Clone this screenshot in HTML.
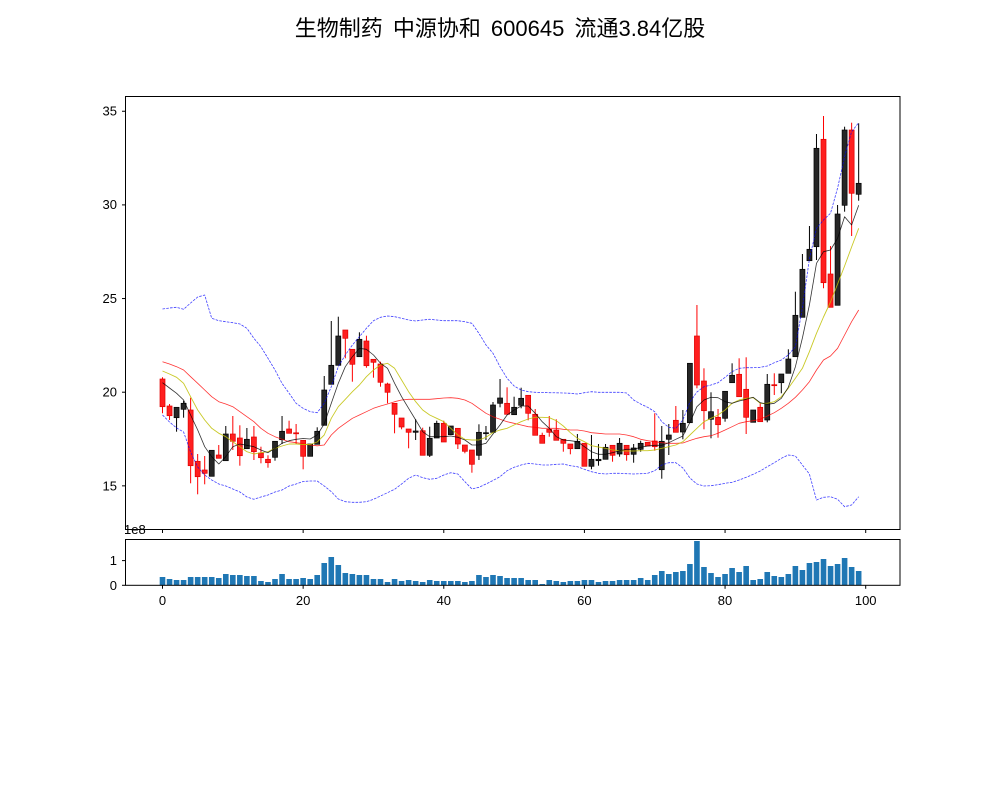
<!DOCTYPE html>
<html><head><meta charset="utf-8"><style>
html,body{margin:0;padding:0;background:#fff;}
svg{display:block;}
text{font-family:"Liberation Sans","Noto Sans CJK SC",sans-serif;fill:#000;}
</style></head><body>
<svg id="s" width="1000" height="800" viewBox="0 0 1000 800" xmlns="http://www.w3.org/2000/svg">
<rect x="0" y="0" width="1000" height="800" fill="#fff"/>
<text x="500" y="36" font-size="22" text-anchor="middle" word-spacing="4" style="font-family:'Liberation Sans','Noto Sans CJK SC',sans-serif">生物制药 中源协和 600645 流通3.84亿股</text>
<g id="main"></g>
<g id="vol"></g>
<text x="124" y="534" font-size="13">1e8</text>
<rect x="125.5" y="96.5" width="774.5" height="433" fill="none" stroke="#000" stroke-width="1"/>
<rect x="125.5" y="539.5" width="774.5" height="45.8" fill="none" stroke="#000" stroke-width="1"/>
<g id="ticks" stroke="#000" stroke-width="1"></g>
<g font-size="13" text-anchor="end">
<text x="117" y="115.6">35</text>
<text x="117" y="209.2">30</text>
<text x="117" y="302.9">25</text>
<text x="117" y="396.6">20</text>
<text x="117" y="490.3">15</text>
<text x="117" y="565">1</text>
<text x="117" y="589.8">0</text>
</g>
<g font-size="13" text-anchor="middle">
<text x="162.5" y="605">0</text>
<text x="303.1" y="605">20</text>
<text x="443.8" y="605">40</text>
<text x="584.4" y="605">60</text>
<text x="725" y="605">80</text>
<text x="865.7" y="605">100</text>
</g>
</svg>
<script>
(function(){
var NS="http://www.w3.org/2000/svg";
function X(i){return 162.5+7.032*i;}
function el(p,tag,attrs){var e=document.createElementNS(NS,tag);for(var k in attrs)e.setAttribute(k,attrs[k]);p.appendChild(e);return e;}
var C=[
"r",379,406.7,377.3,413.3,"r",406,415.7,404,420,"k",407.3,417.7,407,431.7,"k",403.3,409.3,400.7,417.7,"r",410,465.7,397.7,483.3,
"r",461.3,476.7,454,494.3,"r",470,473.3,456,484.3,"k",450.3,476.3,450.3,476.3,"r",455,458.3,445,458.3,"k",434,460.7,426,460.7,
"r",434,441.3,416,450,"r",438,455.7,425.3,465.7,"k",439.3,448.7,428,448.7,"r",437,451.7,426,460,"r",453,457.7,446.7,463.3,
"r",459.3,462.7,455.3,467.7,"k",441.3,457.3,441.3,460.7,"k",431.3,439.7,416,444,"r",429,433.3,420.7,433.3,"r",432.8,433.8,424,444,
"r",440.3,456.3,440.3,469.3,"k",444,456.3,444,456.3,"k",431.3,444.3,427.3,444.3,"k",390,425.3,376,425.3,"k",365.3,384.3,321,384.3,
"k",336,365.3,316.7,365.3,"r",330,338.3,330,358.3,"r",349.3,364.3,349.3,381.7,"k",339.3,356.7,332.3,356.7,"r",341,365.7,335.7,367.7,
"r",359.3,362.3,359.3,377.7,"r",364,382.3,361.7,386.7,"r",384,392.3,382.7,403.3,"r",403.3,414.3,403.3,433.3,"r",418,427,418,429.3,
"r",429,432.3,429,448.3,"k",431,432.3,419.3,440,"r",430.7,455.3,427.7,455.3,"k",438.3,455.3,426.7,457,"k",423.3,438,420.7,438,
"r",423.3,442,420.7,442,"k",426,434.7,426,434.7,"r",428.3,444,428.3,449,"r",445,451.3,445,453.3,"r",450,464.3,450,472.7,
"k",432.3,455.3,424.3,460,"k",432.7,433.7,426,440,"k",405,432.3,402,432.3,"k",398,403.3,379,407.3,"r",403.3,414.3,387.3,414.3,
"k",407.3,414.7,396.7,414.7,"k",398.3,405.3,387.7,408.3,"r",395.3,413.3,395.3,420.3,"r",414.3,435.3,409,435.3,"r",435.3,443.3,432.7,443.3,
"r",429.3,432.3,416,436.7,"r",430,440.3,419.3,440.3,"r",439.3,443.3,439.3,451.7,"r",444,448.7,444,454.3,"k",441.3,448.7,434,448.7,
"r",443.3,466.3,443.3,466.3,"k",459.3,466.3,435,469.3,"k",459.3,460.7,444,465.7,"k",447.3,459.3,444,459.3,"r",445.3,455.3,445.3,461.7,
"k",443.3,454,438,456.7,"r",445.3,454.7,445.3,460.7,"k",448,454.3,444,462.7,"k",443.3,449.3,440.7,451.7,"r",442.3,446,442.3,446,
"r",441,446.7,413.3,450.7,"k",441.3,469.7,426,478.7,"k",435,439.3,424,455,"r",420.3,432.3,406,432.3,"k",423.3,432,410,439.3,
"k",363.3,422.7,363.3,422.7,"r",336,385,305,388.3,"r",381,410.7,368.3,429.3,"k",411.7,419.3,392.3,438.3,"r",417.3,424.7,409,437.7,
"k",391.3,418.3,391.3,421.7,"k",375.3,382.7,363.3,382.7,"r",374.3,396.7,358.3,396.7,"r",389.3,417.3,357.3,434,"k",410,422.3,410,422.3,
"r",407.3,421.7,403.3,421.7,"k",384.3,420,374,422.3,"r",384.7,385.7,373.3,395,"k",374,382.7,374,393.3,"k",359,373.3,349.3,373.3,
"k",315.3,356.7,291.7,356.7,"k",269.3,317.3,254,317.3,"k",249.3,260.7,226,260.7,"k",148.3,246.7,134,260,"r",139.3,282.7,116,288.3,
"r",274,307.3,246,307.3,"k",214,305.3,205,305.3,"k",130,205.3,126.7,211.7,"r",130,193.3,122.7,236,"k",183.3,194.3,123.3,200.7
];
var black=[382.7,388,393.3,400,415,430,446.7,456.7,464,456.7,446.7,444,445.3,446.7,450,452.7,448.3,443.3,440.7,439.3,438.5,439,435,424,403.3,383.3,366.7,356.7,348.3,349.3,355,363.3,368.3,383.3,396.7,408.3,420,431.7,436.7,436.7,436.7,436,437.3,440,445,445,443.3,434,425,415,410,406,406,413.3,421.7,428.3,436.7,440,440.7,441.7,446.7,451.7,454.3,454.3,452.7,450.7,449.3,449.3,447.3,446,445.3,445.3,442.7,439.3,436,422.5,406.7,400,397.3,397.7,401.7,403.3,401,399.3,397.3,402.7,404.3,403.3,398.3,387.3,366.7,338,305,263.3,251.7,250,238.3,216.7,225,205.3];
var yel=[371,374,377.3,383.3,396.7,410,420,428.3,433.3,436.7,441.7,446.7,451.7,454,452.7,451.7,448.3,446,444,444,444.5,444.5,442,435,418.3,406.7,399.3,391.7,385,376.7,370,365,363.3,368.3,380,391.7,401.7,410,415,418.3,421.7,428.3,435,439.3,440,440,437.3,432.5,430,428.3,425,421.7,419,417.3,417.3,417.7,420.7,426,432.7,438.3,441.7,445.7,447,448.3,450,450.7,451,451,450.7,450.7,450,448.3,446.7,445,441.7,435,428.3,421.7,418.3,415,410,403.3,400,398.3,397.7,403.3,403.3,401.7,396.7,388.3,378.3,368.3,351.7,333.3,317,302,284,266,247,228.3];
var red=[361.7,364,366.7,370,376.7,383.3,390,396.7,401.7,404,406.7,411.7,416.7,421.7,428.3,433.3,436.7,439.3,441.7,442.7,443.7,445,445.8,445,435,428.3,423.3,418.3,415,411.7,408.3,406,404,401.7,400,399.3,399.3,399.3,399.3,398.7,398,397.7,398.3,400,403.3,408.3,413.3,416.7,419.3,421.7,423.3,425,426.7,427.3,428.3,428.3,428.3,429.3,430,430,431,432.7,433.3,434,434,434,435,436.7,439.3,440.7,441.7,442.7,443.3,443.3,443,440.5,438.3,436.7,435.7,433.3,430,426.7,423.3,421.7,420.7,419.3,416,412.7,408.3,403.3,397.3,390,381.7,370,360,356,348.3,335,321.7,310];
var up=[309,308,307.3,309.3,303,297,295,318.3,320.7,321.7,322.7,324,328.3,338.3,346.7,358.3,370,383.3,393.3,403.3,408.3,411.7,412.7,403.3,386.7,366.7,355,345,336.7,328.3,320.7,317.3,316,316.7,318.3,320,321,320,319.3,320,320.7,320.7,320.7,321.7,323.3,333.3,345,353.3,366.7,378.3,386,390,391.7,392.3,392.5,392.7,392.8,393,393.3,394,392.7,391.7,392.3,392.3,392.3,392.3,393,400,404,407.3,411.7,421.7,427.3,428.3,420,402,392,386.7,385,382.7,377.3,371.7,368.3,367.7,367.7,367.3,366,362.7,360,355,346.7,308,259,228.3,220,213.3,188,156.7,131.7,122.7];
var lo=[415,422,428,432,452,467,475,480,484,486,489,492,497,499.3,497,495,492,490,486,484,481.5,481,481,486,491.7,499,501.7,502.3,502.3,501.7,499.3,496,492.7,489.3,484,478.3,475,477.7,479.3,478.3,475,472.7,474,481.7,489,487.3,484,480.5,476.7,470.7,467.3,465,463.3,464,465,465,464.3,464,465.7,466.7,469.3,471.7,473.3,474,473.3,473.3,473.7,474,473.7,473.3,470.7,465,462.7,462.7,468,478,484,486,485.7,484.7,483.3,482.3,480,477.3,474.3,471,466.7,462.7,458.3,455,456,465,474,500,497.3,496.7,499.3,506.7,505,496.7];
var vol=[8.3,6.3,5.3,5.3,8.3,8.3,8.3,8.3,7.3,11.3,10.3,10.3,9.3,9.3,4.3,3.3,6.3,11.3,6.3,6.3,7.3,6.3,10.3,22.3,28.3,20.3,12.3,11.3,10.3,10.3,6.3,6.3,3.3,6.3,4.3,5.3,4.3,3.3,5.3,4.3,4.3,4.3,4.3,3.3,4.3,10.3,8.3,10.3,9.3,7.3,7.3,7.3,5.3,5.3,1.3,5.3,4.3,3.3,4.3,4.3,5.3,5.3,3.3,4.3,4.3,5.3,5.3,5.3,7.3,5.3,10.3,14.3,11.3,13.3,14.3,21.3,44.3,18.3,12.3,8.3,11.3,17.3,13.3,19.3,5.3,6.3,13.3,9.3,8.3,11.3,19.3,15.3,22.3,23.3,26.3,19.3,21.3,27.3,18.3,14.3];
var m=document.getElementById("main");
for(var i=0;i<100;i++){
  var c=C[i*5],bt=C[i*5+1],bb=C[i*5+2],wt=C[i*5+3],wb=C[i*5+4];
  var x=X(i);var col=c==="r"?"#ff0000":"#000000";
  el(m,"line",{x1:x,x2:x,y1:Math.min(wt,bt),y2:Math.max(wb,bb),stroke:col,"stroke-width":1});
  var h=Math.max(bb-bt,1);
  el(m,"rect",{x:x-2.5,y:bt,width:5,height:h,fill:c==="r"?"#ff1f1f":"#262626",stroke:c==="r"?"#e00000":"#000","stroke-width":0.7});
}
function pl(arr,attrs){var p=[];for(var i=0;i<arr.length;i++)p.push(X(i).toFixed(1)+","+arr[i]);attrs.points=p.join(" ");attrs.fill="none";attrs["stroke-linejoin"]="round";el(m,"polyline",attrs);}
pl(red,{stroke:"#ff0000","stroke-width":0.8,"stroke-opacity":0.8});
pl(yel,{stroke:"#bfbf00","stroke-width":0.9,"stroke-opacity":0.85});
pl(black,{stroke:"#000","stroke-width":0.8,"stroke-opacity":0.8});
pl(up,{stroke:"#0000ff","stroke-width":0.8,"stroke-opacity":0.75,"stroke-dasharray":"2.6 1.2"});
pl(lo,{stroke:"#0000ff","stroke-width":0.8,"stroke-opacity":0.75,"stroke-dasharray":"2.6 1.2"});
var v=document.getElementById("vol");
for(var i=0;i<100;i++){el(v,"rect",{x:X(i)-2.8,y:585.3-vol[i],width:5.6,height:vol[i],fill:"#1f77b4"});}
var t=document.getElementById("ticks");
var xs=[0,20,40,60,80,100];
for(var k=0;k<xs.length;k++){var xx=X(xs[k]);
  el(t,"line",{x1:xx,x2:xx,y1:529.5,y2:533});
  el(t,"line",{x1:xx,x2:xx,y1:585.3,y2:588.8});}
var ys=[35,30,25,20,15];
for(var k=0;k<ys.length;k++){var yy=392.2-(ys[k]-20)*18.73;el(t,"line",{x1:122,x2:125.5,y1:yy,y2:yy});}
el(t,"line",{x1:122,x2:125.5,y1:560.6,y2:560.6});
el(t,"line",{x1:122,x2:125.5,y1:585.3,y2:585.3});
})();
</script>
</body></html>
